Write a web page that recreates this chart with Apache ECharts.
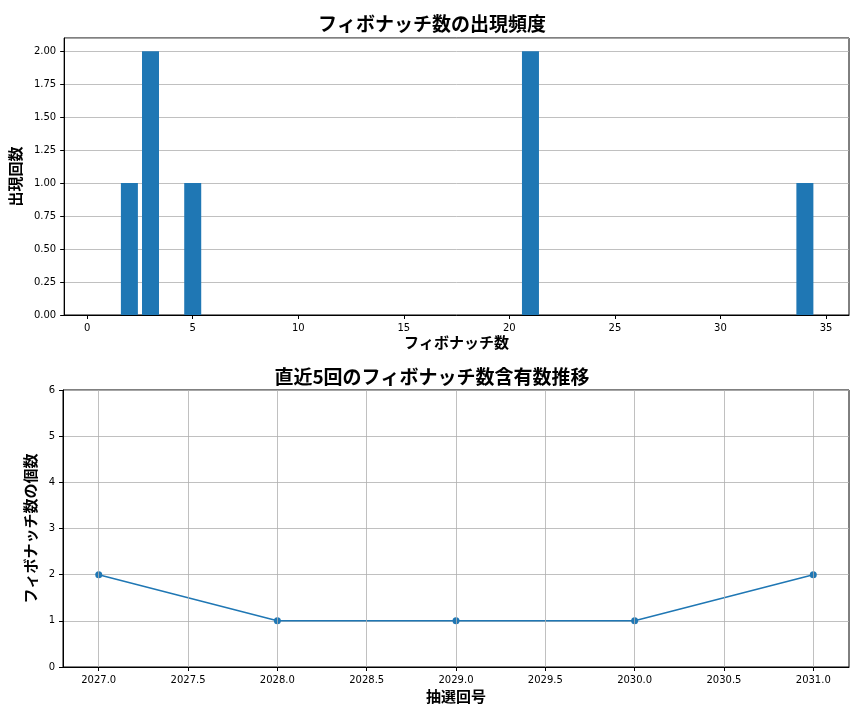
<!DOCTYPE html>
<html><head><meta charset="utf-8">
<script src="https://cdn.jsdelivr.net/npm/echarts@6/dist/echarts.min.js"></script>
<style>html,body{margin:0;background:#fff}#c{width:864px;height:720px}</style></head>
<body><div id="c"></div>
<script>
const fibNumbers=[1,2,3,5,21,34];
const fibCounts=[0,1,2,1,2,1];
const draws=[2027,2028,2029,2030,2031];
const drawCounts=[2,1,1,1,2];
const xTicks2=[2027,2027.5,2028,2028.5,2029,2029.5,2030,2030.5,2031];
const F='"Noto Sans CJK JP", "DejaVu Sans", sans-serif';
const c=echarts.init(document.getElementById('c'));
const ax={color:'#000',fontSize:10,fontFamily:'DejaVu Sans'};
const line={show:true,onZero:false,lineStyle:{color:'#000'}};
const tick={show:true,length:4,lineStyle:{color:'#000'}};
const split={show:true,lineStyle:{color:'#b0b0b0',width:0.8}};
const nm={fontFamily:F,fontSize:15,fontWeight:'bold',color:'#000'};
c.setOption({
animation:false,
title:[{text:'フィボナッチ数の出現頻度',left:'center',top:9,textStyle:{fontFamily:F,fontSize:19,fontWeight:'bold',color:'#000'}},
{text:'直近5回のフィボナッチ数含有数推移',left:'center',top:362,textStyle:{fontFamily:F,fontSize:19,fontWeight:'bold',color:'#000'}}],
grid:[{left:63,right:15,top:38,height:277,show:true,borderColor:'#000',borderWidth:1},{left:63,right:15,top:390,height:277,show:true,borderColor:'#000',borderWidth:1}],
xAxis:[{gridIndex:0,type:'value',min:-1.09,max:36.09,axisLabel:{...ax,customValues:[0,5,10,15,20,25,30,35]},axisTick:{...tick,customValues:[0,5,10,15,20,25,30,35]},axisLine:line,splitLine:{show:false},
name:'フィボナッチ数',nameLocation:'middle',nameGap:20,nameTextStyle:nm},
{gridIndex:1,type:'value',min:2026.8,max:2031.2,axisLabel:{...ax,customValues:xTicks2,formatter:v=>v.toFixed(1)},axisTick:{...tick,customValues:xTicks2},axisLine:line,splitLine:{show:false},
name:'抽選回号',nameLocation:'middle',nameGap:22,nameTextStyle:nm}],
yAxis:[{gridIndex:0,type:'value',min:0,max:2.1,interval:0.25,axisLabel:{...ax,formatter:v=>v.toFixed(2),showMaxLabel:false},axisTick:tick,axisLine:line,splitLine:split,
name:'出現回数',nameLocation:'middle',nameGap:36,nameTextStyle:nm},
{gridIndex:1,type:'value',min:0,max:6,interval:1,axisLabel:ax,axisTick:tick,axisLine:line,splitLine:split,
name:'フィボナッチ数の個数',nameLocation:'middle',nameGap:22,nameTextStyle:nm}],
series:[{type:'bar',xAxisIndex:0,yAxisIndex:0,barWidth:17,itemStyle:{color:'#1f77b4'},data:fibNumbers.map((n,i)=>[n,fibCounts[i]])},
{type:'line',xAxisIndex:1,yAxisIndex:1,symbol:'circle',symbolSize:7,itemStyle:{color:'#1f77b4',borderWidth:0},lineStyle:{color:'#1f77b4',width:1.5},data:draws.map((d,i)=>[d,drawCounts[i]]),
markLine:{silent:true,symbol:'none',label:{show:false},lineStyle:{color:'#b0b0b0',width:0.8,type:'solid'},data:xTicks2.map(v=>({xAxis:v}))}}]
});
</script></body></html>
